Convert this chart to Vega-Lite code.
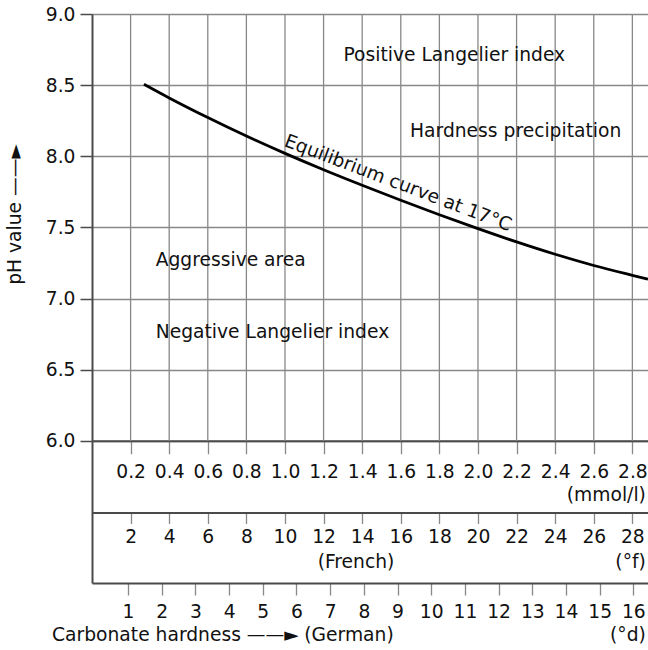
{
  "$schema": "https://vega.github.io/schema/vega-lite/v6.json",
  "width": 556,
  "height": 569,
  "autosize": "none",
  "padding": {"left": 92, "top": 14, "right": 0, "bottom": 67},
  "background": "white",
  "config": {
    "view": {"stroke": null},
    "font": "DejaVu Sans",
    "axis": {
      "labelFont": "DejaVu Sans", "titleFont": "DejaVu Sans",
      "labelFontSize": 18.7, "labelColor": "#111", "titleColor": "#111",
      "domainColor": "#4a4a4a", "domainWidth": 2,
      "tickColor": "#888", "tickWidth": 1.3,
      "labelFlush": false, "labelOverlap": false, "grid": false
    },
    "text": {"font": "DejaVu Sans", "fontSize": 18.7, "color": "#111"}
  },
  "datasets": {
    "curve": [
      {"mmol": 0.269, "ph": 8.506}, {"mmol": 0.4, "ph": 8.41}, {"mmol": 0.6, "ph": 8.272},
      {"mmol": 0.8, "ph": 8.142}, {"mmol": 1.0, "ph": 8.02}, {"mmol": 1.2, "ph": 7.905},
      {"mmol": 1.4, "ph": 7.796}, {"mmol": 1.6, "ph": 7.691}, {"mmol": 1.8, "ph": 7.589},
      {"mmol": 2.0, "ph": 7.491}, {"mmol": 2.2, "ph": 7.398}, {"mmol": 2.4, "ph": 7.311},
      {"mmol": 2.6, "ph": 7.232}, {"mmol": 2.8, "ph": 7.163}, {"mmol": 2.881, "ph": 7.136}
    ],
    "mmolGrid": [
      {"mmol": 0.2}, {"mmol": 0.4}, {"mmol": 0.6}, {"mmol": 0.8}, {"mmol": 1.0}, {"mmol": 1.2}, {"mmol": 1.4},
      {"mmol": 1.6}, {"mmol": 1.8}, {"mmol": 2.0}, {"mmol": 2.2}, {"mmol": 2.4}, {"mmol": 2.6}, {"mmol": 2.8}
    ],
    "french": [
      {"fr": 2}, {"fr": 4}, {"fr": 6}, {"fr": 8}, {"fr": 10}, {"fr": 12}, {"fr": 14},
      {"fr": 16}, {"fr": 18}, {"fr": 20}, {"fr": 22}, {"fr": 24}, {"fr": 26}, {"fr": 28}
    ],
    "german": [
      {"dh": 1}, {"dh": 2}, {"dh": 3}, {"dh": 4}, {"dh": 5}, {"dh": 6}, {"dh": 7}, {"dh": 8},
      {"dh": 9}, {"dh": 10}, {"dh": 11}, {"dh": 12}, {"dh": 13}, {"dh": 14}, {"dh": 15}, {"dh": 16}
    ],
    "areaNotes": [
      {"label": "Positive Langelier index", "mmol": 1.303, "ph": 8.672},
      {"label": "Hardness precipitation", "mmol": 1.648, "ph": 8.137},
      {"label": "Aggressive area", "mmol": 0.33, "ph": 7.229},
      {"label": "Negative Langelier index", "mmol": 0.33, "ph": 6.719}
    ],
    "curveNote": [{"label": "Equilibrium curve at 17°C", "mmol": 1.575, "ph": 7.773}],
    "rightNotes": [
      {"label": "(mmol/l)", "mmol": 2.87, "ph": 5.573},
      {"label": "(°f)", "mmol": 2.87, "ph": 5.102},
      {"label": "(°d)", "mmol": 2.87, "ph": 4.589}
    ],
    "centerNotes": [{"label": "(French)", "mmol": 1.368, "ph": 5.102}],
    "leftNotes": [
      {"label": "Carbonate hardness ——►", "mmol": -0.207, "ph": 4.589},
      {"label": "(German)", "mmol": 1.1, "ph": 4.589}
    ]
  },
  "layer": [
    {
      "layer": [
        {
          "data": {"name": "mmolGrid"},
          "mark": {"type": "rule", "color": "#888", "strokeWidth": 1.3},
          "encoding": {
            "x": {
              "field": "mmol", "type": "quantitative",
              "scale": {"domain": [0, 2.881], "nice": false, "zero": false},
              "axis": {
                "orient": "bottom", "offset": -142.25,
                "values": [0.2, 0.4, 0.6, 0.8, 1.0, 1.2, 1.4, 1.6, 1.8, 2.0, 2.2, 2.4, 2.6, 2.8],
                "format": ".1f", "title": null, "tickSize": 13, "labelPadding": 8.7
              }
            },
            "y": {
              "datum": 6, "type": "quantitative",
              "scale": {"domain": [5, 9], "nice": false, "zero": false},
              "axis": {
                "orient": "left",
                "values": [6, 6.5, 7, 7.5, 8, 8.5, 9],
                "format": ".1f",
                "title": "pH value ——►",
                "titleFontSize": 18.7, "titleFontWeight": "normal",
                "titlePadding": 20.5, "titleY": 200,
                "tickSize": 12, "tickColor": "#4a4a4a", "tickWidth": 1.5,
                "labelPadding": 5,
                "grid": true, "gridColor": "#888", "gridWidth": 1.3
              }
            },
            "y2": {"datum": 9}
          }
        },
        {
          "mark": {"type": "rule", "color": "#4a4a4a", "strokeWidth": 2},
          "encoding": {
            "y": {"datum": 9, "type": "quantitative", "scale": {"domain": [5, 9], "nice": false, "zero": false}}
          }
        },
        {
          "data": {"name": "curve"},
          "mark": {"type": "line", "color": "#000", "strokeWidth": 2.8, "interpolate": "monotone"},
          "encoding": {
            "x": {"field": "mmol", "type": "quantitative", "scale": {"domain": [0, 2.881], "nice": false, "zero": false}},
            "y": {"field": "ph", "type": "quantitative", "scale": {"domain": [5, 9], "nice": false, "zero": false}}
          }
        },
        {
          "data": {"name": "areaNotes"},
          "mark": {"type": "text", "align": "left", "baseline": "alphabetic"},
          "encoding": {
            "x": {"field": "mmol", "type": "quantitative"},
            "y": {"field": "ph", "type": "quantitative"},
            "text": {"field": "label"}
          }
        },
        {
          "data": {"name": "curveNote"},
          "mark": {"type": "text", "align": "center", "baseline": "alphabetic", "angle": 20.8},
          "encoding": {
            "x": {"field": "mmol", "type": "quantitative"},
            "y": {"field": "ph", "type": "quantitative"},
            "text": {"field": "label"}
          }
        },
        {
          "data": {"name": "rightNotes"},
          "mark": {"type": "text", "align": "right", "baseline": "alphabetic"},
          "encoding": {
            "x": {"field": "mmol", "type": "quantitative"},
            "y": {"field": "ph", "type": "quantitative"},
            "text": {"field": "label"}
          }
        },
        {
          "data": {"name": "centerNotes"},
          "mark": {"type": "text", "align": "center", "baseline": "alphabetic"},
          "encoding": {
            "x": {"field": "mmol", "type": "quantitative"},
            "y": {"field": "ph", "type": "quantitative"},
            "text": {"field": "label"}
          }
        },
        {
          "data": {"name": "leftNotes"},
          "mark": {"type": "text", "align": "left", "baseline": "alphabetic"},
          "encoding": {
            "x": {"field": "mmol", "type": "quantitative"},
            "y": {"field": "ph", "type": "quantitative"},
            "text": {"field": "label"}
          }
        }
      ]
    },
    {
      "data": {"name": "french"},
      "mark": {"type": "point", "opacity": 0},
      "encoding": {
        "x": {
          "field": "fr", "type": "quantitative",
          "scale": {"domain": [0, 28.81], "nice": false, "zero": false},
          "axis": {
            "orient": "bottom", "offset": -70.5,
            "values": [2, 4, 6, 8, 10, 12, 14, 16, 18, 20, 22, 24, 26, 28],
            "format": "d", "title": null, "tickSize": 11, "labelPadding": 4.3
          }
        }
      }
    },
    {
      "data": {"name": "german"},
      "mark": {"type": "point", "opacity": 0},
      "encoding": {
        "x": {
          "field": "dh", "type": "quantitative",
          "scale": {"domain": [-0.0686, 16.435], "nice": false, "zero": false},
          "axis": {
            "orient": "bottom", "offset": 0,
            "values": [1, 2, 3, 4, 5, 6, 7, 8, 9, 10, 11, 12, 13, 14, 15, 16],
            "format": "d", "title": null, "tickSize": 12, "labelPadding": 7.5
          }
        }
      }
    }
  ],
  "resolve": {"scale": {"x": "independent"}, "axis": {"x": "independent"}}
}
